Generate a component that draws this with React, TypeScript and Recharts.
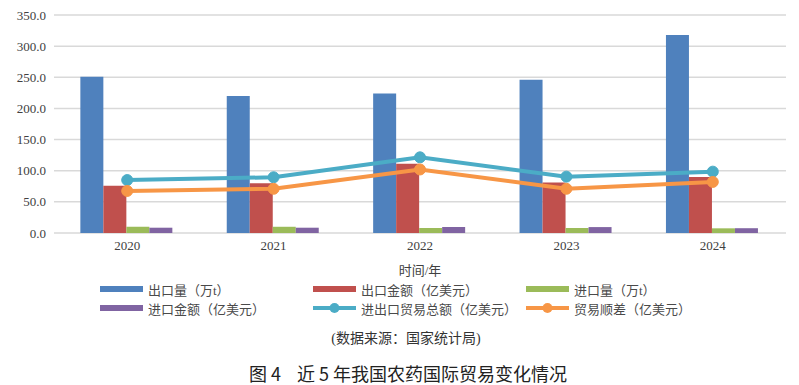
import { ComposedChart, Bar, Line, XAxis, YAxis, CartesianGrid, Legend } from 'recharts';

// values
const years = ['2020', '2021', '2022', '2023', '2024'];
const exportVolume = [251, 220, 224, 246, 318];
const exportValue = [76, 80, 111, 81, 90];
const importVolume = [10, 10, 8, 8, 7.5];
const importValue = [8.5, 8.5, 9.6, 9.5, 7.7];
const tradeTotal = [85, 89.5, 121.5, 90.5, 98.5];
const tradeSurplus = [67.5, 71, 102, 71, 82];
const yTicks = [0, 50, 100, 150, 200, 250, 300, 350];

const seriesNames = [
  '出口量（万t）',
  '出口金额（亿美元）',
  '进口量（万t）',
  '进口金额（亿美元）',
  '进出口贸易总额（亿美元）',
  '贸易顺差（亿美元）',
];
const seriesColors = ['#4F81BD', '#C0504D', '#9BBB59', '#8064A2', '#4BACC6', '#F79646'];
const seriesKinds = ['bar', 'bar', 'bar', 'bar', 'line', 'line'];

const data = years.map((year, i) => ({
  year,
  exportVolume: exportVolume[i],
  exportValue: exportValue[i],
  importVolume: importVolume[i],
  importValue: importValue[i],
  tradeTotal: tradeTotal[i],
  tradeSurplus: tradeSurplus[i],
}));

const serif = '"Liberation Serif", "Times New Roman", "Noto Sans CJK SC", serif';

const LegendBlock = () => (
  <div style={{ position: 'relative', width: 799, height: 40 }}>
    {seriesNames.map((name, i) => {
      const col = i % 3;
      const row = Math.floor(i / 3);
      const left = 100 + col * 213;
      const top = row * 19;
      return (
        <div
          key={name}
          style={{ position: 'absolute', left, top, height: 18, display: 'flex', alignItems: 'center' }}
        >
          <svg width={44} height={12} style={{ display: 'block' }}>
            {seriesKinds[i] === 'bar' ? (
              <rect x={0} y={3} width={43} height={6} fill={seriesColors[i]} />
            ) : (
              <g>
                <line x1={0} y1={6} x2={43} y2={6} stroke={seriesColors[i]} strokeWidth={4} />
                <circle cx={21.5} cy={6} r={5} fill={seriesColors[i]} />
              </g>
            )}
          </svg>
          <span style={{ marginLeft: 4, fontSize: 13, color: '#4a4a4a', fontFamily: serif, whiteSpace: 'nowrap' }}>
            {name}
          </span>
        </div>
      );
    })}
  </div>
);

export default function App() {
  return (
    <div style={{ position: 'absolute', left: 0, top: 0, width: 799, height: 385, background: '#fff', overflow: 'hidden' }}>
      <ComposedChart
        width={799}
        height={385}
        data={data}
        margin={{ top: 15, right: 13, left: 0, bottom: 110 }}
        barCategoryGap="18%"
        barGap={0}
      >
        <CartesianGrid vertical={false} stroke="#d9d9d9" strokeWidth={1.5} />
        <XAxis
          dataKey="year"
          axisLine={false}
          tickLine={false}
          height={42}
          tick={{ fontSize: 13, fill: '#404040', fontFamily: serif }}
          label={{
            value: '时间/年',
            position: 'insideBottom',
            offset: 0,
            style: { fontSize: 13, fill: '#404040', fontFamily: serif },
          }}
        />
        <YAxis
          width={54}
          domain={[0, 350]}
          ticks={yTicks}
          axisLine={false}
          tickLine={false}
          tickFormatter={(v: number) => v.toFixed(1)}
          tick={{ fontSize: 13, fill: '#404040', fontFamily: serif }}
        />
        <Bar dataKey="exportVolume" name={seriesNames[0]} fill={seriesColors[0]} isAnimationActive={false} />
        <Bar dataKey="exportValue" name={seriesNames[1]} fill={seriesColors[1]} isAnimationActive={false} />
        <Bar dataKey="importVolume" name={seriesNames[2]} fill={seriesColors[2]} isAnimationActive={false} />
        <Bar dataKey="importValue" name={seriesNames[3]} fill={seriesColors[3]} isAnimationActive={false} />
        <Line
          dataKey="tradeTotal"
          name={seriesNames[4]}
          stroke={seriesColors[4]}
          strokeWidth={4}
          dot={{ r: 5.5, fill: seriesColors[4], stroke: seriesColors[4], strokeWidth: 1 }}
          isAnimationActive={false}
        />
        <Line
          dataKey="tradeSurplus"
          name={seriesNames[5]}
          stroke={seriesColors[5]}
          strokeWidth={4}
          dot={{ r: 5.5, fill: seriesColors[5], stroke: seriesColors[5], strokeWidth: 1 }}
          isAnimationActive={false}
        />
        <Legend
          layout="horizontal"
          verticalAlign="middle"
          content={() => <LegendBlock />}
          wrapperStyle={{ top: 280, left: 0, width: 799 }}
        />
      </ComposedChart>
      <div
        style={{
          position: 'absolute',
          left: 0,
          top: 330,
          width: 812,
          lineHeight: '18px',
          textAlign: 'center',
          fontSize: 14,
          color: '#333',
          fontFamily: serif,
        }}
      >
        (数据来源：国家统计局)
      </div>
      <div
        style={{
          position: 'absolute',
          left: 0,
          top: 362,
          width: 816,
          lineHeight: '22px',
          textAlign: 'center',
          fontSize: 18,
          color: '#222',
          fontFamily: '"Noto Sans CJK SC", sans-serif',
          fontWeight: 400,
          whiteSpace: 'pre',
        }}
      >
        {'图 4    近 5 年我国农药国际贸易变化情况'}
      </div>
    </div>
  );
}
